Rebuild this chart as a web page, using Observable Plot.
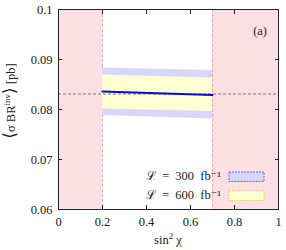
<!DOCTYPE html>
<html><head><meta charset="utf-8">
<script src="https://cdn.jsdelivr.net/npm/d3@7"></script>
<script src="https://cdn.jsdelivr.net/npm/@observablehq/plot@0.6"></script>
<style>body{margin:0;background:#fff}</style>
</head><body><div id="chart"></div>
<script>
const xDomain = [0, 1];
const yDomain = [0.06, 0.1];
const xTicks = [0, 0.2, 0.4, 0.6, 0.8, 1];
const xInnerTicks = [0.2, 0.4, 0.6, 0.8];
const yTicks = [0.06, 0.07, 0.08, 0.09, 0.1];
const yInnerTicks = [0.07, 0.08, 0.09];
const excludedStart = [0, 0.7];
const excludedEnd = [0.2, 1];
const boundaries = [0.2, 0.7];
const allowedX = [0.2, 0.7];
const central = [0.0836, 0.0829];
const lo300 = [0.0788, 0.0781];
const hi300 = [0.0883, 0.0878];
const lo600 = [0.0801, 0.0796];
const hi600 = [0.0869, 0.0863];
const smReference = [0.0831];
const legendLabels = ["ℒ = 300 fb⁻¹", "ℒ = 600 fb⁻¹"];

const excluded = excludedStart.map((a, i) => ({x1: a, x2: excludedEnd[i]}));
const band = allowedX.map((x, i) => ({x, c: central[i], lo300: lo300[i], hi300: hi300[i], lo600: lo600[i], hi600: hi600[i]}));
const fmt = d => String(d);
const FONT = "'Liberation Serif', 'DejaVu Serif', serif";

const chart = Plot.plot({
  width: 286, height: 250,
  marginLeft: 58, marginRight: 8, marginTop: 9, marginBottom: 41,
  x: {domain: xDomain},
  y: {domain: yDomain},
  style: {fontFamily: FONT, fontSize: "12px", color: "#222", background: "#fff"},
  marks: [
    Plot.rect(excluded, {x1: "x1", x2: "x2", fill: "#fde0e3"}),
    Plot.ruleX(boundaries, {stroke: "#f4a3ac", strokeWidth: 1, strokeDasharray: "3,2"}),
    Plot.areaY(band, {x: "x", y1: "lo300", y2: "hi300", fill: "#d7d7fb"}),
    Plot.areaY(band, {x: "x", y1: "lo600", y2: "hi600", fill: "#ffffd4"}),
    Plot.ruleY(smReference, {stroke: "#7a7a7a", strokeWidth: 1, strokeDasharray: "3,2"}),
    Plot.lineY(band, {x: "x", y: "c", stroke: "#0a0ad2", strokeWidth: 2}),
    Plot.frame({stroke: "#222", strokeWidth: 1}),
    Plot.axisX(xTicks, {anchor: "bottom", tickSize: 0, tickPadding: 8, tickFormat: fmt, label: null, fontSize: 12.5}),
    Plot.axisX(xInnerTicks, {anchor: "bottom", tickSize: 4, dy: -4, tickFormat: () => "", label: null}),
    Plot.axisX(xInnerTicks, {anchor: "top", tickSize: 4, dy: 4, tickFormat: () => "", label: null}),
    Plot.axisY(yTicks, {anchor: "left", tickSize: 0, tickPadding: 6, tickFormat: fmt, label: null, fontSize: 12.5}),
    Plot.axisY(yInnerTicks, {anchor: "left", tickSize: 4, dx: 4, tickFormat: () => "", label: null}),
    Plot.axisY(yInnerTicks, {anchor: "right", tickSize: 4, dx: -4, tickFormat: () => "", label: null})
  ]
});
document.getElementById("chart").appendChild(chart);

const svg = d3.select(chart);
function txt(sel) {
  return sel.style("font-family", FONT).style("font-size", "12.5px").attr("fill", "#222");
}
// y label
const yl = txt(svg.append("text")
  .attr("transform", "translate(15,101) rotate(-90)")
  .attr("text-anchor", "middle"));
yl.append("tspan").style("font-size", "17px").text("⟨");
yl.append("tspan").text("σ BR");
yl.append("tspan").style("font-size", "9px").attr("dy", -5).text("inv");
yl.append("tspan").style("font-size", "17px").attr("dy", 5).text("⟩");
yl.append("tspan").text(" [pb]");
// x label
const xl = txt(svg.append("text").attr("x", 168).attr("y", 244).attr("text-anchor", "middle"));
xl.append("tspan").text("sin");
xl.append("tspan").style("font-size", "9px").attr("dy", -5).text("2");
xl.append("tspan").attr("dy", 5).text(" χ");
// panel tag
txt(svg.append("text").attr("x", 267).attr("y", 35).attr("text-anchor", "end")).text("(a)");
// legend
const legendFill = ["#d7d7fb", "#ffffd4"];
const legendStroke = ["#6a6af0", "#e6df50"];
legendLabels.forEach((t, i) => {
  const yb = 180 + i * 19;
  txt(svg.append("text").attr("x", 221).attr("y", yb).attr("text-anchor", "end"))
    .style("word-spacing", "3px").text(t);
  svg.append("rect").attr("x", 229).attr("y", yb - 8).attr("width", 35).attr("height", 9.5)
    .attr("fill", legendFill[i]).attr("stroke", legendStroke[i]).attr("stroke-width", 1)
    .attr("stroke-dasharray", "2,1");
});
</script>
</body></html>
